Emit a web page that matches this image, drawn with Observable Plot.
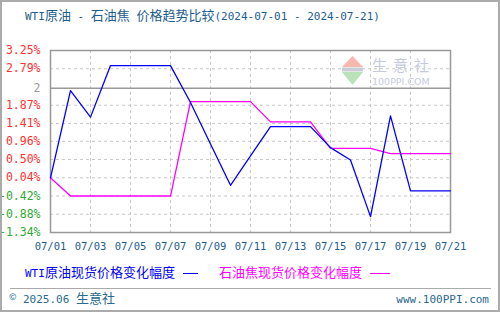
<!DOCTYPE html>
<html><head><meta charset="utf-8">
<script src="https://cdn.jsdelivr.net/npm/d3@7"></script>
<script src="https://cdn.jsdelivr.net/npm/@observablehq/plot@0.6"></script>
<style>
body{margin:0;background:#fff}
#wrap{position:relative;width:500px;height:312px;overflow:hidden;background:#fff}
#border{position:absolute;left:0;top:0;width:500px;height:312px;box-sizing:border-box;border:2px solid #ababab;pointer-events:none}
#chart{position:absolute;left:0;top:0}
.t{position:absolute;white-space:nowrap;font-family:"Noto Sans CJK SC";font-size:13px;line-height:14px}
.lat{font-family:"DejaVu Sans Mono";font-size:11px}
.seg{display:inline-block;vertical-align:middle;height:0;border-top:1.5px solid}
</style></head>
<body>
<div id="wrap">
  <div id="chart"></div>
  <svg style="position:absolute;left:0;top:0" width="500" height="312">
    <polygon points="352.5,56 342,67 363,67" fill="#f6b8ae"/>
    <rect x="342" y="67.5" width="21" height="4" fill="#c9cdd6"/>
    <polygon points="342,72 363,72 352.5,85" fill="#b9e2b9"/>
    <text x="372" y="71" font-family="Noto Sans CJK SC" font-size="15" fill="#c6cbdc" letter-spacing="6">生意社</text>
    <text x="372" y="85" font-family="DejaVu Sans" font-size="9.5" fill="#c6cbdc">100PPI.COM</text>
  </svg>
  <div class="t" id="title" style="left:25px;top:8px;color:#1d5d8e"></div>
  <div class="t" id="leg1" style="left:25px;top:265px;color:#0000ff"></div>
  <div class="t" id="leg2" style="left:219px;top:265px;color:#ff00ff"></div>
  <div style="position:absolute;left:10px;top:288px;width:481px;height:0;border-top:1px solid #aaa"></div>
  <div class="t" style="left:9px;top:290px;color:#2a6a8e;font-size:9px">©</div>
  <div class="t" id="foot1" style="left:23px;top:291px;color:#2a6a8e"></div>
  <div class="t" id="foot2" style="right:11px;top:291px;color:#2a6a8e"></div>
  <div id="border"></div>
</div>
<script>
// ---- data ----
const titleText = "WTI原油 - 石油焦 价格趋势比较(2024-07-01 - 2024-07-21)";
const seriesNames = ["WTI原油现货价格变化幅度", "石油焦现货价格变化幅度"];
const seriesColors = ["#0000ff", "#ff00ff"];
const dates = ["2024-07-01","2024-07-02","2024-07-03","2024-07-04","2024-07-05","2024-07-06","2024-07-07",
  "2024-07-08","2024-07-09","2024-07-10","2024-07-11","2024-07-12","2024-07-13","2024-07-14",
  "2024-07-15","2024-07-16","2024-07-17","2024-07-18","2024-07-19","2024-07-20","2024-07-21"];
const wti  = [0.04, 2.24, 1.57, 2.87, 2.87, 2.87, 2.87, 1.94, 0.89, -0.15, 0.59, 1.33, 1.33, 1.33,
  0.80, 0.49, -0.94, 1.60, -0.29, -0.29, -0.29];
const coke = [0.04, -0.42, -0.42, -0.42, -0.42, -0.42, -0.42, 1.96, 1.96, 1.96, 1.96, 1.45, 1.45, 1.45,
  0.78, 0.78, 0.78, 0.65, 0.65, 0.65, 0.65];
const yTicks  = [3.25, 2.79, 2.30, 1.87, 1.41, 0.96, 0.50, 0.04, -0.42, -0.88, -1.34];
const yLabels = ["3.25%","2.79%","2","1.87%","1.41%","0.96%","0.50%","0.04%","-0.42%","-0.88%","-1.34%"];
const refValue = [2.30];
const xTicks  = ["2024-07-01","2024-07-03","2024-07-05","2024-07-07","2024-07-09","2024-07-11",
  "2024-07-13","2024-07-15","2024-07-17","2024-07-19","2024-07-21"];
const xLabels = ["07/01","07/03","07/05","07/07","07/09","07/11","07/13","07/15","07/17","07/19","07/21"];
const footLeft = "2025.06 生意社";
const footRight = "www.100PPI.com";

// ---- helpers ----
function mixed(el, s) {
  const parts = s.match(/[\x00-\x7f]+|[^\x00-\x7f]+/g);
  el.innerHTML = parts.map(p => /^[\x00-\x7f]/.test(p) ? `<span class="lat">${p}</span>` : p).join("");
}
mixed(document.getElementById("title"), titleText);
mixed(document.getElementById("leg1"), seriesNames[0]);
document.getElementById("leg1").insertAdjacentHTML("beforeend", `<span class="seg" style="width:15px;margin-left:8px;border-color:${seriesColors[0]}"></span>`);
mixed(document.getElementById("leg2"), seriesNames[1]);
document.getElementById("leg2").insertAdjacentHTML("beforeend", `<span class="seg" style="width:20px;margin-left:8px;border-color:${seriesColors[1]}"></span>`);
mixed(document.getElementById("foot1"), footLeft);
mixed(document.getElementById("foot2"), footRight);

const rows = dates.map((d, i) => ({date: new Date(d), wti: wti[i], coke: coke[i]}));
const xTickDates = xTicks.map(d => new Date(d));
const gridY = yTicks.filter((d, i) => yLabels[i] !== "2");
const gridX = xTickDates.slice(1, -1);

const chart = Plot.plot({
  width: 500, height: 260,
  marginTop: 50, marginBottom: 28, marginLeft: 50, marginRight: 50,
  x: {type: "utc", domain: [new Date(dates[0]), new Date(dates[dates.length - 1])], axis: null},
  y: {domain: [-1.34, 3.25], axis: null},
  style: {background: "transparent", overflow: "visible"},
  marks: [
    Plot.ruleY(gridY, {stroke: "#c8c8c8", strokeDasharray: "3,3"}),
    Plot.ruleX(gridX, {stroke: "#c8c8c8", strokeDasharray: "3,3"}),
    Plot.ruleY(refValue, {stroke: "#999", strokeWidth: 1.5}),
    Plot.frame({stroke: "#999", strokeWidth: 1.5}),
    Plot.line(rows, {x: "date", y: "coke", stroke: seriesColors[1], strokeWidth: 1.3}),
    Plot.line(rows, {x: "date", y: "wti", stroke: seriesColors[0], strokeWidth: 1.3}),
    Plot.text(yTicks, {
      y: d => d, text: (d, i) => yLabels[i], frameAnchor: "left", textAnchor: "end", dx: -10,
      fill: (d, i) => yLabels[i] === "2" ? "#999999" : d < 0 ? "#33aa33" : "#ff3333",
      fontSize: 11.5, fontFamily: "DejaVu Sans Mono"
    }),
    Plot.text(xTickDates, {
      x: d => d, text: (d, i) => xLabels[i], frameAnchor: "bottom", dy: 17,
      fill: "#1d5d8e", fontSize: 10.5, fontFamily: "DejaVu Sans Mono"
    })
  ]
});
document.getElementById("chart").appendChild(chart);
</script>
</body></html>
